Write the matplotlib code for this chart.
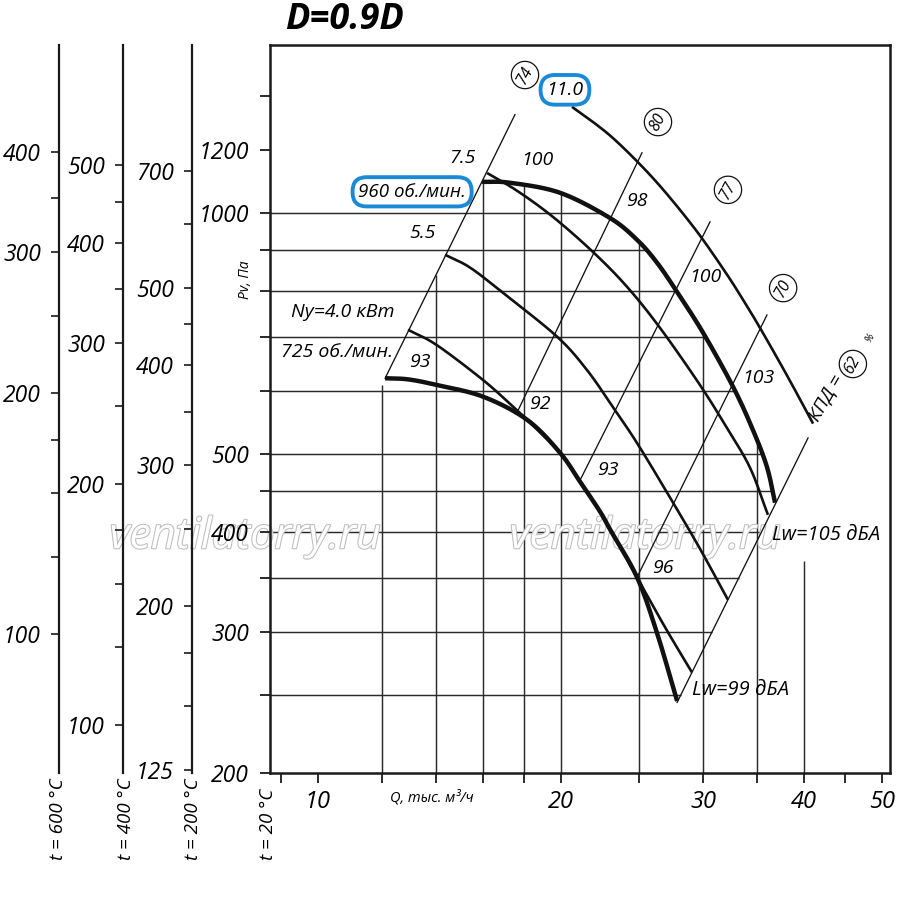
import numpy as np
import matplotlib
matplotlib.use('Agg')
import matplotlib.pyplot as plt
from matplotlib.ticker import FixedLocator, NullFormatter, FixedFormatter
import matplotlib.patheffects as pe

plt.rcParams['font.family'] = ['Open Sans', 'DejaVu Sans']
plt.rcParams['font.style'] = 'italic'

# ---------------- data (Q in thousand m3/h, Pv in Pa) ----------------
q_725 = [12.11, 12.93, 14.04, 16.01, 18.16, 19.95, 21.12, 22.36, 23.00, 24.85, 26.31, 27.86]
p_725 = [622, 620, 610, 590, 552, 502, 462, 424, 403, 351, 299, 246]

q_40 = [12.93, 14.04, 16.01, 17.29, 18.16, 19.95, 21.12, 22.36, 23.00, 24.85, 26.92, 29.07]
p_40 = [715, 684, 619, 578, 552, 502, 462, 424, 403, 351, 304, 267]

q_55 = [14.37, 15.43, 16.95, 19.78, 21.54, 23.21, 24.92, 27.54, 29.74, 32.21]
p_55 = [887, 855, 795, 701, 637, 572, 514, 435, 381, 329]

q_75 = [16.20, 17.65, 19.55, 21.92, 24.15, 26.53, 29.74, 32.12, 34.30, 36.10]
p_75 = [1122, 1066, 989, 894, 809, 719, 610, 539, 481, 420]

q_960 = [15.97, 17.29, 19.95, 23.00, 24.85, 26.31, 27.86, 30.00, 32.68, 34.59, 36.00, 36.84]
p_960 = [1094, 1091, 1060, 986, 926, 867, 797, 709, 607, 536, 482, 435]

q_110 = [20.64, 21.92, 23.21, 24.92, 26.53, 28.34, 30.00, 32.12, 33.53, 35.29, 38.12, 41.06]
p_110 = [1357, 1299, 1240, 1157, 1081, 998, 926, 838, 783, 719, 627, 546]

# efficiency (KPD) rays: start and end points
eff_labels = ['74', '80', '77', '70', '62']
eff_q0 = [12.11, 17.65, 21.12, 24.85, 27.86]
eff_p0 = [622, 564, 464, 351, 245]
eff_q1 = [17.54, 25.20, 30.60, 36.00, 40.48]
eff_p1 = [1327, 1189, 975, 746, 524]
eff_label_q = [18.05, 26.38, 32.21, 37.70]
eff_label_p = [1487, 1299, 1069, 806]

# sound level labels
lw_labels = ['93', '92', '93', '96', '100', '98', '100', '103']
lw_q = [13.38, 18.84, 22.87, 26.76, 18.68, 24.85, 30.17, 35.09]
lw_p = [652, 577, 478, 361, 1165, 1036, 833, 622]

# axis ticks
x_major = [10, 20, 30, 40, 50]
x_minor = [9, 12, 14, 16, 18, 25, 35, 45]
y_major = [200, 300, 400, 500, 1000, 1200]
y_minor = [250, 350, 450, 600, 700, 800, 900, 1400]
h_grid = [250, 300, 350, 400, 450, 500, 600, 700, 800, 900, 1000]
v_grid = [12, 14, 16, 18, 20, 25, 30, 35, 40]

temps = [600, 400, 200]
temp_major = [[100, 200, 300, 400], [100, 200, 300, 400, 500], [125, 200, 300, 400, 500, 700]]
temp_minor = [[125, 150, 175, 250, 350], [125, 150, 175, 250, 350, 450], [150, 175, 250, 350, 450, 600]]

XLIM = (8.72, 51.14)
YLIM = (200, 1621)


def smooth(q, p, n=16):
    """Catmull-Rom rendering of a read curve in log-log space (drawing style only)."""
    pts = np.column_stack([np.log10(q), np.log10(p)])
    P = np.vstack([2 * pts[0] - pts[1], pts, 2 * pts[-1] - pts[-2]])
    t = np.linspace(0, 1, n, endpoint=False)[:, None]
    out = []
    for i in range(1, len(P) - 2):
        p0, p1, p2, p3 = P[i - 1], P[i], P[i + 1], P[i + 2]
        seg = 0.5 * (2 * p1 + (-p0 + p2) * t + (2 * p0 - 5 * p1 + 4 * p2 - p3) * t ** 2
                     + (-p0 + 3 * p1 - 3 * p2 + p3) * t ** 3)
        out.append(seg)
    out.append(pts[-1][None, :])
    o = np.vstack(out)
    return 10 ** o[:, 0], 10 ** o[:, 1]


# ---------------- figure ----------------
W, H = 900, 914
fig = plt.figure(figsize=(9, 9.14), dpi=100)
ax = fig.add_axes([270 / W, 141 / H, 620 / W, 728 / H])
ax.set_xscale('log')
ax.set_yscale('log')
ax.set_xlim(*XLIM)
ax.set_ylim(*YLIM)
for s in ax.spines.values():
    s.set_linewidth(1.8)
    s.set_color('#1a1a1a')

ax.xaxis.set_major_locator(FixedLocator(x_major))
ax.xaxis.set_major_formatter(FixedFormatter([str(v) for v in x_major]))
ax.xaxis.set_minor_locator(FixedLocator(x_minor))
ax.xaxis.set_minor_formatter(NullFormatter())
ax.yaxis.set_major_locator(FixedLocator(y_major))
ax.yaxis.set_major_formatter(FixedFormatter([str(v) for v in y_major]))
ax.yaxis.set_minor_locator(FixedLocator(y_minor))
ax.yaxis.set_minor_formatter(NullFormatter())
ax.tick_params(which='both', direction='out', length=7, width=1.3, color='#1a1a1a')
ax.tick_params(axis='y', which='major', labelsize=16.5, pad=8)
ax.tick_params(axis='x', which='major', labelsize=17, pad=5)


def line_exp(q0, p0, q1, p1):
    return np.log(p1 / p0) / np.log(q1 / q0)


s74 = line_exp(eff_q0[0], eff_p0[0], eff_q1[0], eff_p1[0])
s62 = line_exp(eff_q0[-1], eff_p0[-1], eff_q1[-1], eff_p1[-1])
lw105_q, lw105_p = 42.6, 396
lw99_q, lw99_p = 33.34, 254

grid_kw = dict(color='#2b2b2b', lw=1.05, zorder=1, solid_capstyle='butt')
# horizontal grid lines, ending at the 960 curve / lower efficiency ray
for p in h_grid:
    if p >= p_960[-1]:
        q_end = np.exp(np.interp(np.log(p), np.log(p_960[::-1]), np.log(q_960[::-1])))
    else:
        q_end = eff_q0[-1] * (p / eff_p0[-1]) ** (1 / s62)
    ax.plot([XLIM[0], q_end], [p, p], **grid_kw)
# vertical grid lines
for q in v_grid:
    if q < q_960[0]:
        p_top = eff_p0[0] * (q / eff_q0[0]) ** s74
    elif q <= q_960[-1]:
        p_top = np.exp(np.interp(np.log(q), np.log(q_960), np.log(p_960)))
    else:
        p_top = min(eff_p0[-1] * (q / eff_q0[-1]) ** s62, 0.93 * lw105_p)
    ax.plot([q, q], [YLIM[0], p_top], **grid_kw)

# efficiency rays
circ = dict(boxstyle='circle,pad=0.3', fc='white', ec='#111111', lw=0.9)
for i in range(len(eff_labels)):
    ax.plot([eff_q0[i], eff_q1[i]], [eff_p0[i], eff_p1[i]], color='#111111', lw=0.95, zorder=2)
for i in range(4):
    ax.text(eff_label_q[i], eff_label_p[i], eff_labels[i], fontsize=11.5, rotation=62,
            ha='center', va='center', zorder=6, bbox=circ)

# fan curves
thin_kw = dict(color='#111111', lw=1.9, zorder=3, solid_joinstyle='round', solid_capstyle='butt')
thick_kw = dict(color='#111111', lw=3.2, zorder=4, solid_joinstyle='round', solid_capstyle='butt')
for qq, pp in [(q_40, p_40), (q_55, p_55), (q_75, p_75), (q_110, p_110)]:
    ax.plot(*smooth(qq, pp), **thin_kw)
for qq, pp in [(q_725, p_725), (q_960, p_960)]:
    ax.plot(*smooth(qq, pp), **thick_kw)

# sound labels
for t, q, p in zip(lw_labels, lw_q, lw_p):
    ax.text(q, p, t, fontsize=14, ha='center', va='center', zorder=6)

# other texts
txt = dict(fontsize=14, ha='center', va='center', zorder=6)
ax.text(15.12, 1172, '7.5', **txt)
ax.text(13.49, 945, '5.5', **txt)
ax.text(10.74, 752, 'Ny=4.0 кВт', **txt)
ax.text(10.56, 671, '725 об./мин.', **txt)
ax.text(lw105_q, lw105_p, 'Lw=105 дБА', fontsize=14.5, ha='center', va='center', zorder=6)
ax.text(lw99_q, lw99_p, 'Lw=99 дБА', fontsize=14.5, ha='center', va='center', zorder=6)
blue = '#1a8ad6'
ax.text(13.08, 1063, '960 об./мин.', fontsize=13.5, ha='center', va='center', zorder=7,
        bbox=dict(boxstyle='round,pad=0.3,rounding_size=0.75', fc='white', ec=blue, lw=2.8))
ax.text(20.23, 1425, '11.0', fontsize=14, ha='center', va='center', zorder=7,
        bbox=dict(boxstyle='round,pad=0.3,rounding_size=0.75', fc='white', ec=blue, lw=2.8))
# KPD = 62 %
ax.text(42.6, 588, 'КПД =', fontsize=13.5, rotation=60, ha='center', va='center', zorder=6)
ax.text(46.0, 648, eff_labels[-1], fontsize=11.5, rotation=62, ha='center', va='center', zorder=6,
        bbox=circ)
ax.text(48.3, 697, '%', fontsize=7.5, rotation=60, ha='center', va='center', zorder=6)

# watermarks (above grid, below tick labels, curves and labels)
for xc in [245, 645]:
    ax.text(xc / W, 1 - 537 / H, 'ventilatorry.ru', transform=fig.transFigure,
            ha='center', va='center', fontsize=31, color='white', zorder=1.4, clip_on=False,
            path_effects=[pe.withStroke(linewidth=1.5, foreground='#bdbdbd')])

# temperature scales
t_x = [59, 123, 192]
for t, xp, maj, mnr in zip(temps, t_x, temp_major, temp_minor):
    f = (273 + 20) / (273 + t)
    a = fig.add_axes([xp / W, 141 / H, 0.0005, 728 / H])
    a.set_facecolor('none')
    a.set_yscale('log')
    a.set_ylim(YLIM[0] * f, YLIM[1] * f)
    for k in ['right', 'top', 'bottom']:
        a.spines[k].set_visible(False)
    a.spines['left'].set_linewidth(1.6)
    a.spines['left'].set_color('#1a1a1a')
    a.set_xticks([])
    a.yaxis.set_major_locator(FixedLocator(maj))
    a.yaxis.set_major_formatter(FixedFormatter([str(v) for v in maj]))
    a.yaxis.set_minor_locator(FixedLocator(mnr))
    a.yaxis.set_minor_formatter(NullFormatter())
    a.tick_params(which='both', direction='out', length=6, width=1.2, color='#1a1a1a')
    a.tick_params(axis='y', which='major', labelsize=16.5, pad=7)

# temperature captions
for label, xp in zip(['t = 600 °C', 't = 400 °C', 't = 200 °C', 't = 20 °C'], [58, 126, 193, 268]):
    fig.text(xp / W, 1 - 860 / H, label, rotation=90, rotation_mode='anchor',
             ha='left', va='center', fontsize=13.5)

# axis captions and title
fig.text(246 / W, 1 - 280 / H, 'Pv, Па', rotation=90, ha='center', va='center', fontsize=10)
fig.text(432 / W, 1 - 798 / H, 'Q, тыс. м³/ч', ha='center', va='center', fontsize=10.5)
fig.text(345 / W, 1 - 20 / H, 'D=0.9D', ha='center', va='center', fontsize=26,
         fontweight='bold', style='italic')

fig.savefig('out.png', dpi=100)
